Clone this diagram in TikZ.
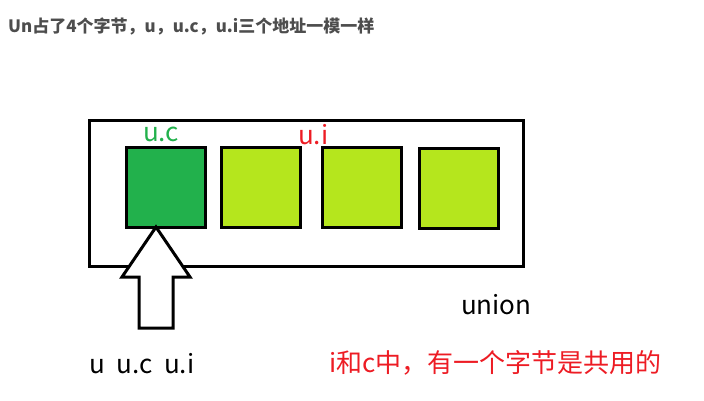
\documentclass[tikz,border=0pt]{standalone}
\usepackage{fontspec}
\setmainfont{Noto Sans CJK SC}
\usepackage{xcolor}
\definecolor{bytegreen}{RGB}{34, 177, 76}
\definecolor{bytelime}{RGB}{181, 230, 29}
\definecolor{labelred}{RGB}{237, 28, 36}
\definecolor{titlegray}{RGB}{77, 77, 77}
\usepackage{tikz}
\usetikzlibrary{positioning, calc}

\begin{document}
\begin{tikzpicture}[x=1pt, y=-1pt,
    cell/.style={rectangle, draw=black, line width=3pt, minimum width=79pt, minimum height=79pt, inner sep=0pt},
    tag/.style={anchor=base west, inner sep=0pt, font=\fontsize{26}{30}\selectfont}
  ]
    \useasboundingbox (0, 0) rectangle (704, 401);
    \node[anchor=base west, inner sep=0pt, font=\fontsize{17}{20}\selectfont\bfseries, text=titlegray] (title) at (8, 33) {Un占了4个字节，u，u.c，u.i三个地址一模一样};
    \draw[line width=3pt] (89.5, 120.5) rectangle (523, 266.5);
    \node[cell, fill=bytegreen] (c0) at (166, 187.5) {};
    \node[cell, fill=bytelime] (c1) at (261, 187.5) {};
    \node[cell, fill=bytelime] (c2) at (362, 187.5) {};
    \node[cell, fill=bytelime] (c3) at (459, 188.5) {};
    \node[tag, text=bytegreen] (lc) at (143, 142) {u.c};
    \node[tag, text=labelred] (li) at (298, 145) {u.i};
    \coordinate (tip) at (156, 227);
    \draw[line width=3pt, fill=white, line join=miter] (tip) -- ++(34, 50) -- ++(-17, 0) -- ++(0, 51) -- ++(-34, 0) -- ++(0, -51) -- ++(-17, 0) -- cycle;
    \node[tag] (un) at (461, 314) {union};
    \node[tag] (names) at (89, 373) {u\ \ u.c\ \ u.i};
    \node[tag, text=labelred] (note) at (329, 372) {i和c中，有一个字节是共用的};
  \end{tikzpicture}
\end{document}
